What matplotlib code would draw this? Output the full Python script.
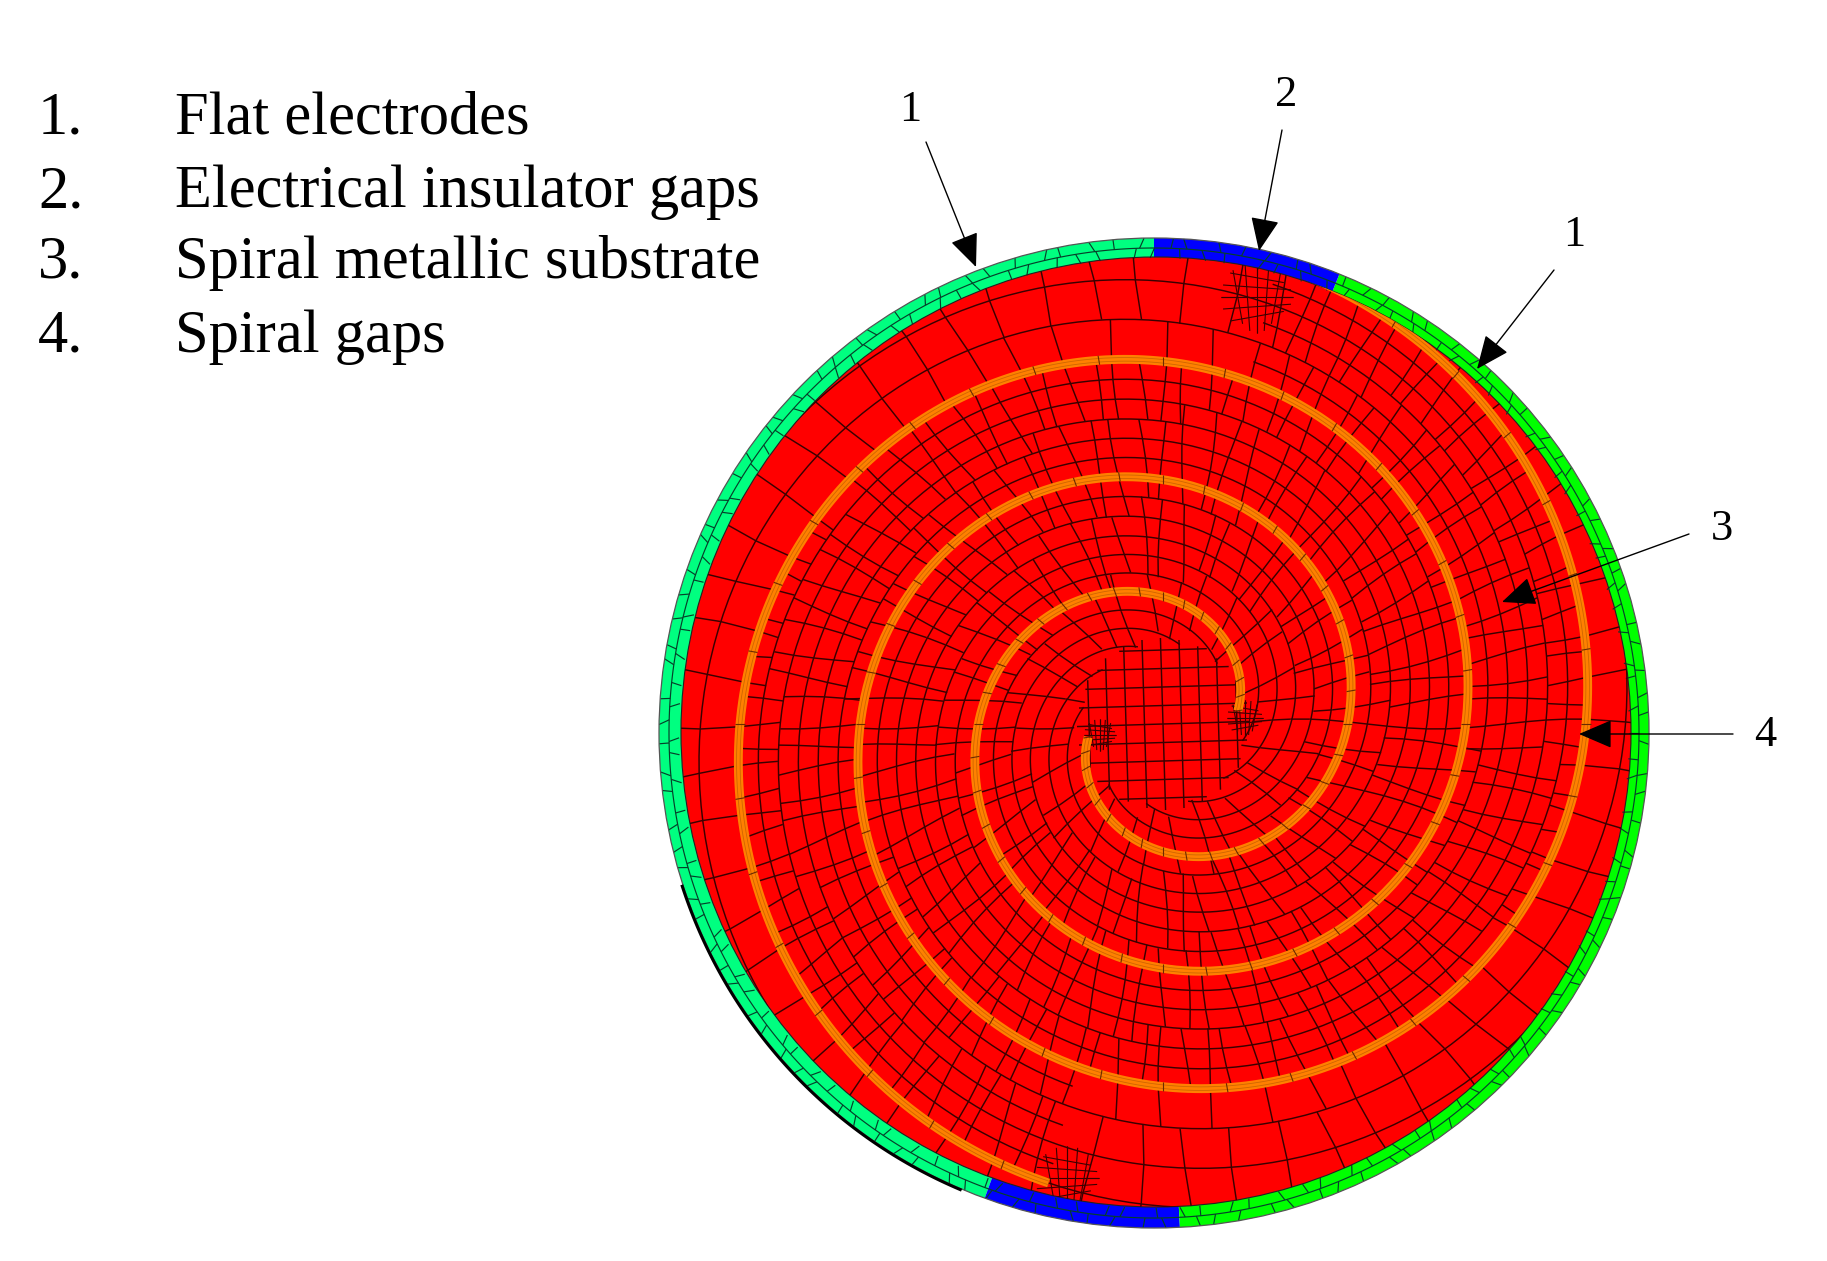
import numpy as np
import matplotlib
matplotlib.use('Agg')
import matplotlib.pyplot as plt
from matplotlib.collections import LineCollection
from matplotlib.patches import Circle, Wedge

# legend text
item_nums = ['1.', '2.', '3.', '4.']
item_names = ['Flat electrodes', 'Electrical insulator gaps', 'Spiral metallic substrate', 'Spiral gaps']
item_base = [134, 207, 278, 352]

# arrows: label, label x, label y, line start x/y, tip x/y
arrow_labels = ['1', '2', '1', '3', '4']
label_x = [910, 1286, 1574, 1722, 1765]
label_y = [110, 95, 235, 529, 735]
start_x = [926, 1282, 1554, 1689, 1733]
start_y = [142, 130, 270, 534, 734]
tip_x = [976, 1259, 1477, 1502, 1579]
tip_y = [267, 251, 369, 602, 734]

# outer ring sectors, degrees
sector_from = [90, 250, 273, 68]
sector_to = [250, 273, 428, 90]
sector_col = ['#00ff80', '#0000ff', '#00ff00', '#0000ff']

# spiral: unwrapped angle (deg) and radius (px)
spiral_deg = [10, 106, 190, 280, 365, 458, 540, 616, 900]
spiral_r = [76, 138, 191, 251, 306, 368, 423, 473, 660]

# finer mesh patches near the ends of the arms
patch_x = [1257, 1067, 1245, 1100]
patch_y = [297, 1178, 718, 735]
patch_size = [36, 32, 18, 16]

# spokes per full turn, by radius zone
zone_r = [80, 140, 210, 300, 380, 1000]
zone_n = [30, 56, 76, 96, 116]

cx, cy = 1163, 724      # spiral centre
rcx, rcy, r_in = 1156, 732, 475
ocx, ocy, r_out = 1154, 733, 495
line_col = '#3a0000'

plt.rcParams['font.family'] = ['Liberation Serif', 'DejaVu Serif']
fig = plt.figure(figsize=(18.27, 12.61), dpi=100)
ax = fig.add_axes([0, 0, 1, 1])
ax.set_xlim(0, 1827)
ax.set_ylim(1261, 0)
ax.axis('off')


def rad(u):
    return np.interp(u, spiral_deg, spiral_r)


def xy(th, r):
    # th in degrees, counter clockwise on screen
    return cx + r * np.cos(np.radians(th)), cy - r * np.sin(np.radians(th))


def last_arm(th):
    # largest arm parameter that exists at this angle
    return 616 - ((616 - th) % 180)


# ring and substrate
for a, b, c in zip(sector_from, sector_to, sector_col):
    # y axis is flipped so the wedge angles are mirrored
    ax.add_patch(Wedge((ocx, ocy), r_out, -b, -a, width=r_out - r_in + 6, fc=c, ec='none', zorder=1))
ax.add_patch(Circle((rcx, rcy), r_in, fc='#ff0000', ec='none', zorder=2))
clip = Circle((rcx, rcy), r_in, transform=ax.transData)

# ring mesh
ring_segs = []
ang = np.radians(np.linspace(0, 360, 721))
ring_segs.append(np.c_[ocx + (r_in + 10) * np.cos(ang), ocy - (r_in + 10) * np.sin(ang)])
rows = [(r_in, r_in + 10), (r_in + 10, r_out)]
for i, a in enumerate(np.arange(0, 360, 1.5)):
    a2 = a + 0.6 * np.sin(i * 1.9)
    r0, r1 = rows[i % 2]
    t = np.radians(a2)
    ring_segs.append([(ocx + r0 * np.cos(t), ocy - r0 * np.sin(t)),
                      (ocx + r1 * np.cos(t + 0.01 * np.sin(i * 0.7)), ocy - r1 * np.sin(t + 0.01 * np.sin(i * 0.7)))])
ax.add_collection(LineCollection(ring_segs, colors='#06402a', linewidths=0.85, zorder=3))
ax.add_patch(Circle((ocx, ocy), r_out, fc='none', ec='#555555', lw=0.9, zorder=4))
ax.add_patch(Circle((rcx, rcy), r_in, fc='none', ec='#222222', lw=0.8, zorder=4))

# shadow along the lower left edge
t = np.radians(np.linspace(198, 247, 80))
ax.plot(ocx + (r_out + 1) * np.cos(t), ocy - (r_out + 1) * np.sin(t), color='black', lw=2.2, zorder=5)

# substrate mesh: rings are copies of the spiral turned by 30 deg
segs = []
th = np.arange(-360, 1100, 2.0)
for j in range(12):
    u = th + 30 * j
    r = rad(u)
    px, py = xy(th, r)
    outer = u > last_arm(th) + 1
    keep = (r > 80) & (u > 10) & (~outer | (j % 2 == 0)) & (u < 1000)
    segs.append(np.c_[np.where(keep, px, np.nan), np.where(keep, py, np.nan)])

# spokes between neighbouring rings, count depends on the radius zone
for z, n in enumerate(zone_n):
    for i in range(n):
        base = i * 360.0 / n
        for k in range(-12, 34):
            u = base + 30 * k
            r0 = rad(u)
            if u < 10 or r0 < zone_r[z] or r0 >= zone_r[z + 1]:
                continue
            outer = u + 30 > last_arm(base) + 1
            if outer and (k % 2 != 0 or i % 2 != 0):
                continue
            step = 2 if outer else 1
            r1 = rad(u + 30 * step)
            w0 = np.degrees(5.0 / r0) * np.sin(i * 2.3 + k * 0.45)
            w1 = np.degrees(5.0 / r1) * np.sin(i * 2.3 + (k + step) * 0.45)
            segs.append([xy(base + w0, r0), xy(base + w1, r1)])

mesh = LineCollection(segs, colors=line_col, linewidths=1.05, zorder=6)
ax.add_collection(mesh)
mesh.set_clip_path(clip)

# centre of the spiral is close to a plain grid
grid = []
gs = 18.5
for v in np.arange(-5, 6):
    h = np.sqrt(max(86 ** 2 - (v * gs) ** 2, 0))
    grid.append([(cx + v * gs - h * 0.03, cy - h), (cx + v * gs + h * 0.03, cy + h)])
    grid.append([(cx - h, cy + v * gs + h * 0.03), (cx + h, cy + v * gs - h * 0.03)])
ax.add_collection(LineCollection(grid, colors=line_col, linewidths=1.05, zorder=6))

# finer mesh patches
fine = []
for x0, y0, s in zip(patch_x, patch_y, patch_size):
    d = s / 3.0
    for v in np.arange(-s, s + 1, d):
        h = np.sqrt(max(s ** 2 - v ** 2, 0))
        fine.append([(x0 + v, y0 - h), (x0 + v * 0.6, y0 + h)])
        fine.append([(x0 - h, y0 + v), (x0 + h, y0 + v * 0.6)])
fine_lines = LineCollection(fine, colors=line_col, linewidths=0.8, zorder=6)
ax.add_collection(fine_lines)
fine_lines.set_clip_path(clip)

# the two spiral arms, the second is the first turned half a turn
t_arm = np.arange(spiral_deg[0], 617, 1.0)
for off in [0, 180]:
    ax_x, ax_y = xy(t_arm + off, rad(t_arm))
    line, = ax.plot(ax_x, ax_y, color='#ff8000', lw=6.4, solid_capstyle='butt', zorder=7)
    line.set_clip_path(clip)
    for d in [-1.8, 1.8]:
        ex, ey = xy(t_arm + off, rad(t_arm) + d)
        thin, = ax.plot(ex, ey, color='#a85000', lw=0.6, alpha=0.55, zorder=8)
        thin.set_clip_path(clip)
    # cross lines on the arm
    cross = []
    for tt in t_arm[::10]:
        cross.append([xy(tt + off, rad(tt) - 4.6), xy(tt + off, rad(tt) + 4.6)])
    cl = LineCollection(cross, colors='#6a2a00', linewidths=0.8, zorder=8)
    ax.add_collection(cl)
    cl.set_clip_path(clip)

# arrows and labels
for s, lx, ly, x0, y0, x1, y1 in zip(arrow_labels, label_x, label_y, start_x, start_y, tip_x, tip_y):
    ax.annotate('', xy=(x1, y1), xytext=(x0, y0), zorder=10,
                arrowprops=dict(arrowstyle='-|>,head_length=1.05,head_width=0.45', mutation_scale=20,
                                color='black', lw=1.0, shrinkA=0, shrinkB=0))
    ax.text(lx, ly, s, fontsize=32, ha='center', va='center', color='black', zorder=11)

# list at top left
for n, name, y in zip(item_nums, item_names, item_base):
    ax.text(38, y, n, fontsize=43.6, ha='left', va='baseline', color='black')
    ax.text(175, y, name, fontsize=43.6, ha='left', va='baseline', color='black')

fig.savefig('out.png', dpi=100, facecolor='white')
